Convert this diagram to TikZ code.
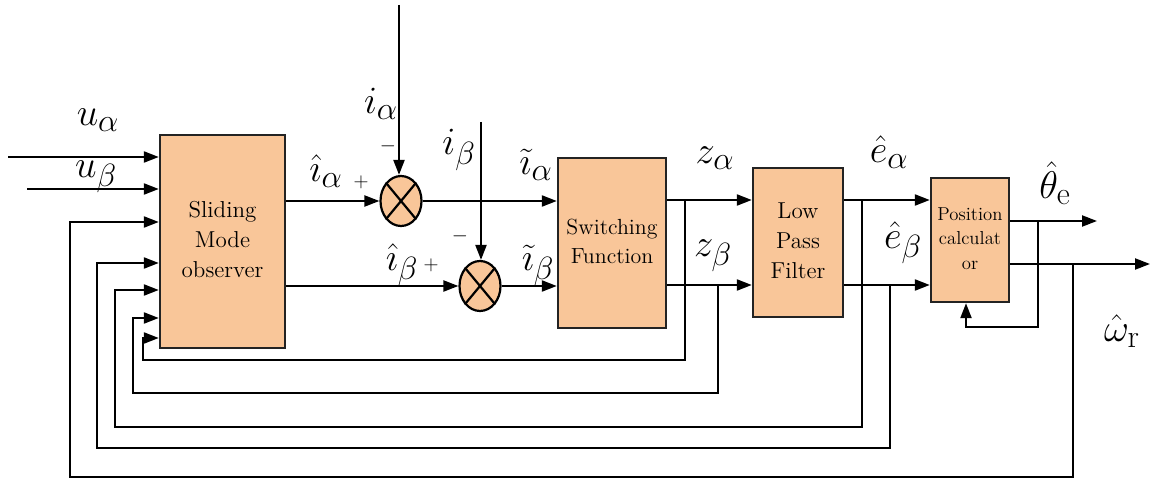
\documentclass[tikz,border=0pt]{standalone}
\usepackage{graphicx}
\usepackage{tikz}
\usetikzlibrary{arrows.meta,positioning,calc,shapes.geometric}
\definecolor{blkfill}{RGB}{249,198,153}
\definecolor{blkline}{RGB}{35,35,35}
\newcommand{\biglab}[1]{\scalebox{1.55}{$#1$}}
\newcommand{\blktxt}[2]{\scalebox{#1}{\fontsize{14.4}{19}\selectfont\begin{tabular}{@{}c@{}}#2\end{tabular}}}
\tikzset{
  blk/.style={draw=blkline, line width=2.4pt, fill=blkfill, align=center, inner sep=0pt},
  sumj/.style={ellipse, draw=black, line width=2.2pt, fill=blkfill, minimum width=41pt,
      minimum height=50pt, inner sep=0pt},
  sig/.style={-{Triangle[length=15pt, width=11pt]}, line width=2.2pt},
  lab/.style={font=\fontsize{24.88}{26}\selectfont, inner sep=0pt},
  sgn/.style={font=\fontsize{20}{22}\selectfont, inner sep=0pt},
}
\begin{document}
\begin{tikzpicture}[x=1pt, y=-1pt]
  \useasboundingbox (0,0) rectangle (1151,481);
  % blocks
  \node[blk, minimum width=125pt, minimum height=213pt] (smo) at (222.5,241.5) {\blktxt{1.6}{Sliding\\Mode\\observer}};
  \node[blk, minimum width=108pt, minimum height=170pt] (sf) at (612,243) {\blktxt{1.52}{Switching\\Function}};
  \node[blk, minimum width=90pt, minimum height=149pt] (lpf) at (798,242.5) {\blktxt{1.6}{Low\\Pass\\Filter}};
  \node[blk, minimum width=78pt, minimum height=124pt] (pc) at (970,240) {\blktxt{1.3}{Position\\calculat\\or}};
  \node[sumj] (s1) at (401,201) {};
  \node[sumj] (s2) at (480,286) {};
  \draw[line width=2.2pt] (s1.north east) -- (s1.south west) (s1.north west) -- (s1.south east);
  \draw[line width=2.2pt] (s2.north east) -- (s2.south west) (s2.north west) -- (s2.south east);
  % free ends and branch points
  \coordinate (ua) at (8,157);
  \coordinate (ub) at (27,189);
  \coordinate (ia) at (399,5);
  \coordinate (ib) at (481,122);
  \coordinate (th) at (1097,221);
  \coordinate (om) at (1150,264);
  \coordinate (bza) at (685,200);
  \coordinate (bzb) at (718,285);
  \coordinate (bea) at (862,200);
  \coordinate (beb) at (890,285);
  \coordinate (bth) at (1038,221);
  \coordinate (bom) at (1073,264);
  % forward path
  \draw[sig] (ua) -- (smo.west |- ua);
  \draw[sig] (ub) -- (smo.west |- ub);
  \draw[sig] (smo.east |- s1) -- (s1);
  \draw[sig] (smo.east |- s2) -- (s2);
  \draw[sig] (ia) -- (ia |- s1.north);
  \draw[sig] (ib) -- (ib |- s2.north);
  \draw[sig] (s1) -- (sf.west |- s1);
  \draw[sig] (s2) -- (sf.west |- s2);
  \draw[sig] (sf.east |- bza) -- (lpf.west |- bza);
  \draw[sig] (sf.east |- bzb) -- (lpf.west |- bzb);
  \draw[sig] (lpf.east |- bea) -- (pc.west |- bea);
  \draw[sig] (lpf.east |- beb) -- (pc.west |- beb);
  \draw[sig] (pc.east |- th) -- (th);
  \draw[sig] (pc.east |- om) -- (om);
  % feedback paths
  \draw[sig] (bth) -- (bth |- 0,327) -- (966,327) -- (pc.south -| 966,0);
  \draw[sig] (bza) -- (bza |- 0,360) -- (143,360) -- (143,338) -- (smo.west |- 0,338);
  \draw[sig] (bzb) -- (bzb |- 0,393) -- (133,393) -- (133,318) -- (smo.west |- 0,318);
  \draw[sig] (bea) -- (bea |- 0,427) -- (115,427) -- (115,290) -- (smo.west |- 0,290);
  \draw[sig] (beb) -- (beb |- 0,448) -- (97,448) -- (97,263) -- (smo.west |- 0,263);
  \draw[sig] (bom) -- (bom |- 0,477) -- (70,477) -- (70,222) -- (smo.west |- 0,222);
  % labels
  \node[lab] (lua) at (98,120) {\biglab{u_\alpha}};
  \node[lab] (lub) at (96,177) {\biglab{u_\beta}};
  \node[lab] (lha) at (326,171) {\biglab{\hat{\imath}_\alpha}};
  \node[lab] (lhb) at (402,265) {\biglab{\hat{\imath}_\beta}};
  \node[lab] (lia) at (381,104) {\biglab{i_\alpha}};
  \node[lab] (lib) at (459,150) {\biglab{i_\beta}};
  \node[lab] (lta) at (536,165) {\biglab{\tilde{\imath}_\alpha}};
  \node[lab] (ltb) at (538,265) {\biglab{\tilde{\imath}_\beta}};
  \node[lab] (lza) at (715,158) {\biglab{z_\alpha}};
  \node[lab] (lzb) at (713,256) {\biglab{z_\beta}};
  \node[lab] (lea) at (889,152) {\biglab{\hat{e}_\alpha}};
  \node[lab] (leb) at (903,243) {\biglab{\hat{e}_\beta}};
  \node[lab] (lth) at (1055,183) {\biglab{\hat{\theta}_{\mathrm{e}}}};
  \node[lab] (lom) at (1122,331) {\biglab{\hat{\omega}_{\mathrm{r}}}};
  \node[sgn] (p1) at (361,182) {$+$};
  \node[sgn] (p2) at (431,265) {$+$};
  \node[sgn] (m1) at (388,146) {$-$};
  \node[sgn] (m2) at (460,236) {$-$};
\end{tikzpicture}
\end{document}
